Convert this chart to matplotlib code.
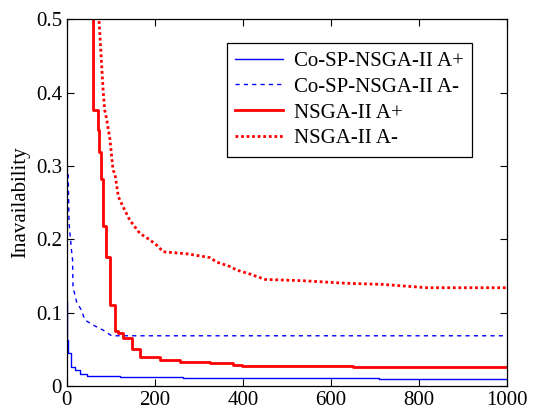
import matplotlib
matplotlib.use('Agg')
import matplotlib.pyplot as plt

plt.rcParams['font.family'] = ['Liberation Serif', 'DejaVu Serif']
plt.rcParams['mathtext.fontset'] = 'stix'

# Co-SP-NSGA-II A+ (step curve: x where value changes, value after)
cosp_plus_x = [0, 1, 2, 7, 10, 18, 30, 45, 120, 263, 710, 1000]
cosp_plus_y = [0.115, 0.063, 0.045, 0.0445, 0.026, 0.022, 0.0163, 0.014, 0.0127, 0.011, 0.0095, 0.0095]

# Co-SP-NSGA-II A-
cosp_minus_x = [0, 3, 5, 10.6, 13, 14, 22, 33, 41, 60, 83, 101.5, 1000]
cosp_minus_y = [0.30, 0.29, 0.222, 0.185, 0.172, 0.135, 0.115, 0.1035, 0.09, 0.083, 0.076, 0.0685, 0.0685]

# NSGA-II A+
nsga_plus_x = [60, 60, 71, 73, 76.6, 82.6, 90, 97.7, 109, 117, 128, 147, 166, 211,
               257, 325, 378, 397, 454, 650, 1000]
nsga_plus_y = [0.52, 0.376, 0.349, 0.319, 0.282, 0.218, 0.176, 0.110, 0.075, 0.072,
               0.065, 0.051, 0.040, 0.0355, 0.033, 0.031, 0.029, 0.0272, 0.0272, 0.0255, 0.0255]

# NSGA-II A-
nsga_minus_x = [71, 82.6, 86, 90, 97.7, 105, 109, 117, 128, 143, 166, 189, 204, 219,
                275, 325, 340, 370, 386, 416, 450, 537, 636, 718, 817, 1000]
nsga_minus_y = [0.52, 0.401, 0.376, 0.365, 0.337, 0.294, 0.29, 0.258, 0.244, 0.226,
                0.208, 0.199, 0.192, 0.183, 0.18, 0.175, 0.169, 0.163, 0.158, 0.1526,
                0.1453, 0.1435, 0.140, 0.1385, 0.134, 0.134]

fig = plt.figure(figsize=(5.39, 4.16), dpi=100)
ax = fig.add_axes([0.124, 0.072, 0.817, 0.882])

ax.step(cosp_plus_x, cosp_plus_y, where='post', color='b', lw=1.0, label='Co-SP-NSGA-II A+')
ax.plot(cosp_minus_x, cosp_minus_y, color='b', lw=1.0, ls=(0, (3, 3)), label='Co-SP-NSGA-II A-')
ax.step(nsga_plus_x, nsga_plus_y, where='post', color='r', lw=2.0, label='NSGA-II A+')
ax.plot(nsga_minus_x, nsga_minus_y, color='r', lw=2.0, ls=(0, (1, 1)), label='NSGA-II A-')

ax.set_xlim(0, 1000)
ax.set_ylim(0, 0.5)
ax.set_xticks([0, 200, 400, 600, 800, 1000])
ax.set_yticks([0, 0.1, 0.2, 0.3, 0.4, 0.5])
ax.set_yticklabels(['0', '0.1', '0.2', '0.3', '0.4', '0.5'])
ax.tick_params(direction='in', top=True, right=True, labelsize=15, length=5, width=0.8)
for s in ax.spines.values():
    s.set_linewidth(0.9)
ax.set_ylabel('Inavailability', fontsize=15, labelpad=4)

leg = ax.legend(loc='upper right', bbox_to_anchor=(0.92, 0.935), borderaxespad=0,
                fontsize=15, fancybox=False, edgecolor='black', framealpha=1,
                handlelength=2.3, labelspacing=0.3, handletextpad=0.5)
leg.get_frame().set_linewidth(0.9)

fig.savefig('out.png', dpi=100)
